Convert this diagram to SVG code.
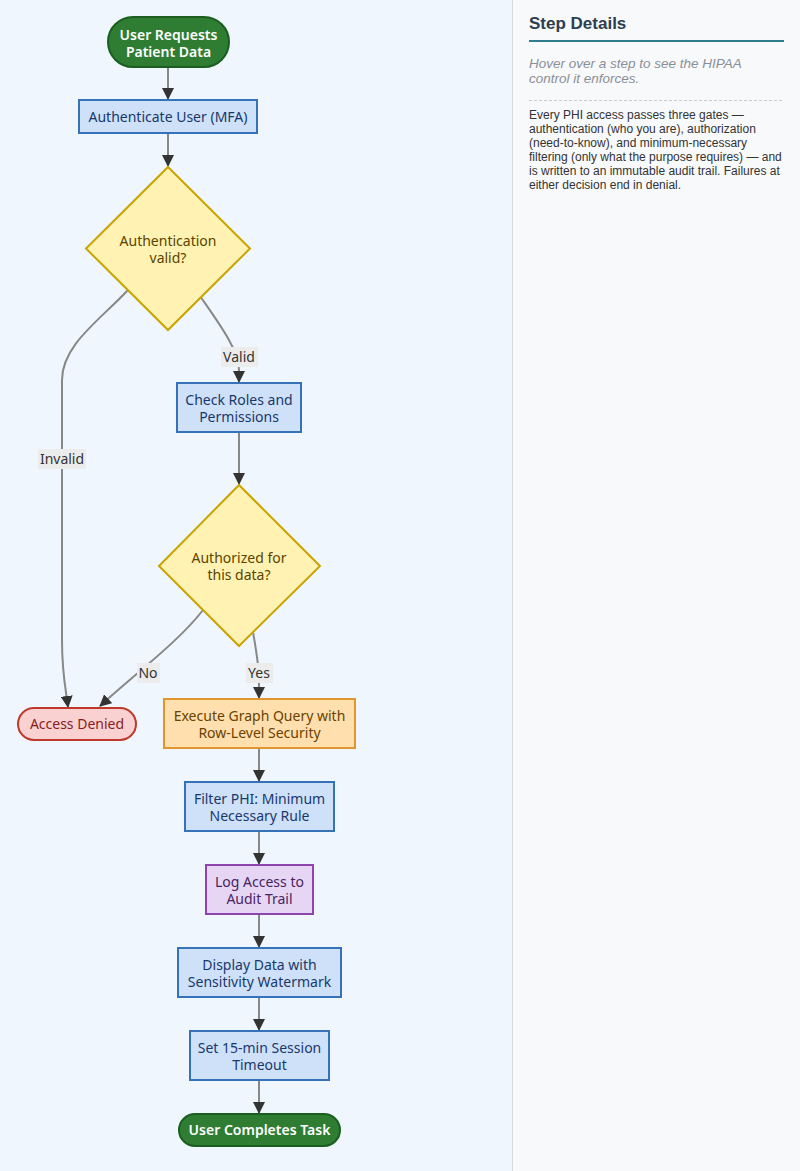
<svg xmlns="http://www.w3.org/2000/svg" width="800" height="1171" viewBox="0 0 800 1171">
<style>
.nt{font-family:"Noto Sans","Open Sans","DejaVu Sans",sans-serif;font-size:14px;text-anchor:middle}
.term{fill:#2e7d32;stroke:#1b5e20;stroke-width:2}
.term-t{fill:#ffffff;font-weight:600}
.proc{fill:#cfe1f9;stroke:#3572b8;stroke-width:2}
.proc-t{fill:#17386b}
.dec{fill:#fff2b2;stroke:#c9a400;stroke-width:2}
.dec-t{fill:#5a4400}
.deny{fill:#f9d1d1;stroke:#c0392b;stroke-width:2}
.deny-t{fill:#8b1c1c}
.exec{fill:#ffdfad;stroke:#e0952f;stroke-width:2}
.exec-t{fill:#6b4200}
.log{fill:#e6d6f4;stroke:#8e44ad;stroke-width:2}
.log-t{fill:#4a1f63}
.edge{fill:none;stroke:#888888;stroke-width:2}
.lbl-bg{fill:#ececec}
.lbl{font-family:"Noto Sans","Open Sans","DejaVu Sans",sans-serif;font-size:14px;text-anchor:middle;fill:#333333}
.side{font-family:"Liberation Sans",Arial,sans-serif}
</style>
<defs>
<marker id="arr" viewBox="0 0 12 12" refX="11" refY="6" markerWidth="12" markerHeight="12" markerUnits="userSpaceOnUse" orient="auto">
<path d="M0,0 L12,6 L0,12 z" fill="#333333"/>
</marker>
</defs>
<rect x="0" y="0" width="800" height="1171" fill="#eff6fd"/>
<rect x="512" y="0" width="288" height="1171" fill="#f8f9fb"/>
<line x1="512.5" y1="0" x2="512.5" y2="1171" stroke="#d5d9de" stroke-width="1"/>

<g id="connectors">
<path class="edge" d="M168,67 L168,99" marker-end="url(#arr)"/>
<path class="edge" d="M168,133 L168,166" marker-end="url(#arr)"/>
<path class="edge" d="M200,296 C218,322 239,350 239,370 L239,382" marker-end="url(#arr)"/>
<path class="edge" d="M128,290 C100,320 62,345 62,380 L62,640 C62,675 66,690 68,707" marker-end="url(#arr)"/>
<path class="edge" d="M239,432 L239,484" marker-end="url(#arr)"/>
<path class="edge" d="M203,610 C180,640 140,670 100,706" marker-end="url(#arr)"/>
<path class="edge" d="M253,632 C256,650 259,665 259,680 L259,698" marker-end="url(#arr)"/>
<path class="edge" d="M259,748 L259,781" marker-end="url(#arr)"/>
<path class="edge" d="M259,831 L259,864" marker-end="url(#arr)"/>
<path class="edge" d="M259,914 L259,947" marker-end="url(#arr)"/>
<path class="edge" d="M259,997 L259,1030" marker-end="url(#arr)"/>
<path class="edge" d="M259,1080 L259,1113" marker-end="url(#arr)"/>
<rect class="lbl-bg" x="221" y="347" width="37" height="20"/>
<text class="lbl" x="239" y="362">Valid</text>
<rect class="lbl-bg" x="38" y="449" width="48" height="20"/>
<text class="lbl" x="62" y="464">Invalid</text>
<rect class="lbl-bg" x="137" y="663" width="23" height="20"/>
<text class="lbl" x="148" y="678">No</text>
<rect class="lbl-bg" x="246" y="663" width="27" height="20"/>
<text class="lbl" x="259" y="678">Yes</text>
</g>

<g id="n-start">
<rect class="term" x="108" y="17" width="121" height="50" rx="25" ry="25"/>
<text class="nt term-t" x="168.5" y="40">User Requests</text>
<text class="nt term-t" x="168.5" y="57">Patient Data</text>
</g>
<g id="n-auth">
<rect class="proc" x="79" y="100" width="178" height="33"/>
<text class="nt proc-t" x="168" y="122">Authenticate User (MFA)</text>
</g>
<g id="n-authvalid">
<polygon class="dec" points="168,167 250,248.5 168,330 86,248.5"/>
<text class="nt dec-t" x="168" y="246">Authentication</text>
<text class="nt dec-t" x="168" y="263">valid?</text>
</g>
<g id="n-roles">
<rect class="proc" x="177" y="383" width="124" height="49"/>
<text class="nt proc-t" x="239" y="405">Check Roles and</text>
<text class="nt proc-t" x="239" y="422">Permissions</text>
</g>
<g id="n-authorized">
<polygon class="dec" points="239,485 320,566 239,646 159,566"/>
<text class="nt dec-t" x="239" y="563">Authorized for</text>
<text class="nt dec-t" x="239" y="580">this data?</text>
</g>
<g id="n-denied">
<rect class="deny" x="18" y="708" width="118" height="32" rx="16" ry="16"/>
<text class="nt deny-t" x="77" y="729">Access Denied</text>
</g>
<g id="n-exec">
<rect class="exec" x="164" y="699" width="191" height="49"/>
<text class="nt exec-t" x="259.5" y="721">Execute Graph Query with</text>
<text class="nt exec-t" x="259.5" y="738">Row-Level Security</text>
</g>
<g id="n-filter">
<rect class="proc" x="185" y="782" width="149" height="49"/>
<text class="nt proc-t" x="259.5" y="804">Filter PHI: Minimum</text>
<text class="nt proc-t" x="259.5" y="821">Necessary Rule</text>
</g>
<g id="n-log">
<rect class="log" x="206" y="865" width="107" height="49"/>
<text class="nt log-t" x="259.5" y="887">Log Access to</text>
<text class="nt log-t" x="259.5" y="904">Audit Trail</text>
</g>
<g id="n-display">
<rect class="proc" x="178" y="948" width="163" height="49"/>
<text class="nt proc-t" x="259.5" y="970">Display Data with</text>
<text class="nt proc-t" x="259.5" y="987">Sensitivity Watermark</text>
</g>
<g id="n-timeout">
<rect class="proc" x="190" y="1031" width="139" height="49"/>
<text class="nt proc-t" x="259.5" y="1053">Set 15-min Session</text>
<text class="nt proc-t" x="259.5" y="1070">Timeout</text>
</g>
<g id="n-end">
<rect class="term" x="179" y="1114" width="161" height="32" rx="16" ry="16"/>
<text class="nt term-t" x="259.5" y="1135">User Completes Task</text>
</g>

<g id="sidebar">
<text class="side" x="529" y="29" font-size="17" font-weight="bold" fill="#2c3e50">Step Details</text>
<line x1="529" y1="41" x2="784" y2="41" stroke="#2e7d8c" stroke-width="2"/>
<text class="side" x="529" y="68" font-size="13.5" font-style="italic" fill="#8a8f96">Hover over a step to see the HIPAA</text>
<text class="side" x="529" y="83" font-size="13.5" font-style="italic" fill="#8a8f96">control it enforces.</text>
<line x1="529" y1="100.5" x2="784" y2="100.5" stroke="#c8ccd1" stroke-width="1" stroke-dasharray="3,2"/>
<g class="side" font-size="12" fill="#333333">
<text x="529" y="119">Every PHI access passes three gates —</text>
<text x="529" y="133">authentication (who you are), authorization</text>
<text x="529" y="147">(need-to-know), and minimum-necessary</text>
<text x="529" y="161">filtering (only what the purpose requires) — and</text>
<text x="529" y="175">is written to an immutable audit trail. Failures at</text>
<text x="529" y="189">either decision end in denial.</text>
</g>
</g>
</svg>
